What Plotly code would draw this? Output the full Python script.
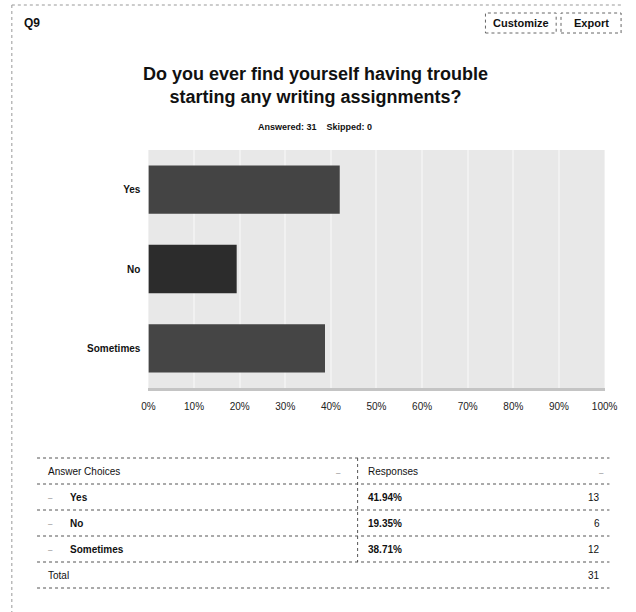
import plotly.graph_objects as go

# ---- data ----
question_id = "Q9"
title_lines = ["Do you ever find yourself having trouble", "starting any writing assignments?"]
answered = 31
skipped = 0
choices = ["Yes", "No", "Sometimes"]
percents = [41.94, 19.35, 38.71]
counts = [13, 6, 12]
total = 31
bar_colors = ["#444444", "#2c2c2c", "#454545"]
tick_vals = [0, 10, 20, 30, 40, 50, 60, 70, 80, 90, 100]
tick_text = ["0%", "10%", "20%", "30%", "40%", "50%", "60%", "70%", "80%", "90%", "100%"]

W, H = 636, 612
FONT = "Arial, Liberation Sans, sans-serif"


def px(x):
    return x / W


def py(y):
    return 1 - y / H


fig = go.Figure()
fig.add_trace(go.Bar(
    x=percents, y=choices, orientation="h",
    marker=dict(color=bar_colors, line=dict(width=0)),
    width=0.61, hoverinfo="skip",
))

annotations = []
shapes = []

# header
annotations.append(dict(text="<b>%s</b>" % question_id, x=px(15), y=py(23), xref="paper", yref="paper",
                        xanchor="left", yanchor="middle", showarrow=False, font=dict(size=12, color="#111", family=FONT)))
for label, x0, x1 in [("Customize", 494, 567), ("Export", 572, 634)]:
    shapes.append(dict(type="rect", xref="paper", yref="paper", x0=px(x0), x1=px(x1), y0=py(33), y1=py(13),
                       line=dict(color="#666", width=1, dash="dot"), fillcolor="white"))
    annotations.append(dict(text="<b>%s</b>" % label, x=px((x0 + x1) / 2), y=py(23), xref="paper", yref="paper",
                            xanchor="center", yanchor="middle", showarrow=False,
                            font=dict(size=11, color="#111", family=FONT)))

# page border (left and top edges visible)
shapes.append(dict(type="line", xref="paper", yref="paper", x0=px(5), x1=px(636), y0=py(5), y1=py(5),
                   line=dict(color="#999", width=1, dash="dot")))
shapes.append(dict(type="line", xref="paper", yref="paper", x0=px(5), x1=px(5), y0=py(5), y1=py(612),
                   line=dict(color="#999", width=1, dash="dot")))

# title
annotations.append(dict(text="<b>%s<br>%s</b>" % tuple(title_lines), x=px(318), y=py(86), xref="paper", yref="paper",
                        xanchor="center", yanchor="middle", showarrow=False, align="center",
                        font=dict(size=18, color="#111", family=FONT)))
annotations.append(dict(text="<b>Answered: %d &nbsp;&nbsp; Skipped: %d</b>" % (answered, skipped),
                        x=px(318), y=py(127), xref="paper", yref="paper", xanchor="center", yanchor="middle",
                        showarrow=False, font=dict(size=9, color="#111", family=FONT)))

# table
line_ys = [458, 484, 510, 536, 562, 588]
tx0, tx1, tdiv = 31, 622, 362
for ly in line_ys:
    shapes.append(dict(type="line", xref="paper", yref="paper", x0=px(tx0), x1=px(tx1), y0=py(ly), y1=py(ly),
                       line=dict(color="#555", width=1, dash="dot")))
shapes.append(dict(type="line", xref="paper", yref="paper", x0=px(tdiv), x1=px(tdiv), y0=py(458), y1=py(562),
                   line=dict(color="#555", width=1, dash="dot")))


def txt(t, x, y, anchor="left", size=10, bold=False, color="#111"):
    annotations.append(dict(text=("<b>%s</b>" % t) if bold else t, x=px(x), y=py(y), xref="paper", yref="paper",
                            xanchor=anchor, yanchor="middle", showarrow=False,
                            font=dict(size=size, color=color, family=FONT)))


txt("Answer Choices", 40, 471)
txt("–", 338, 472, color="#777", size=8)
txt("Responses", 371, 471)
txt("–", 618, 472, anchor="right", color="#777", size=8)
row_ys = [497, 523, 549]
for c, p, n, ry in zip(choices, percents, counts, row_ys):
    txt("–", 40, ry, color="#777", size=8)
    txt(c, 63, ry, bold=True, size=10)
    txt("%.2f%%" % p, 371, ry, bold=True, size=10)
    txt(str(n), 614, ry, anchor="right", size=10)
txt("Total", 40, 575)
txt(str(total), 614, 575, anchor="right")

fig.update_layout(
    width=W, height=H,
    margin=dict(l=0, r=0, t=0, b=0),
    paper_bgcolor="white",
    plot_bgcolor="#e8e8e8",
    showlegend=False,
    font=dict(family=FONT, color="#111"),
    annotations=annotations,
    shapes=shapes,
    xaxis=dict(domain=[px(146), px(617)], range=[0, 100], tickvals=tick_vals, ticktext=tick_text,
               showgrid=True, gridcolor="#f1f1f1", gridwidth=2, zeroline=False,
               showline=True, linecolor="#c4c4c4", linewidth=3,
               tickfont=dict(size=10, color="#222", family=FONT), ticks="", ticklabelstandoff=7, fixedrange=True),
    yaxis=dict(domain=[py(388), py(150)], categoryorder="array", categoryarray=choices[::-1],
               showgrid=False, zeroline=False, showline=False, ticks="",
               tickfont=dict(size=10, color="#111", family=FONT), ticklabelstandoff=7,
               tickprefix="<b>", ticksuffix="</b>", fixedrange=True),
)

fig.write_html("out.html")
